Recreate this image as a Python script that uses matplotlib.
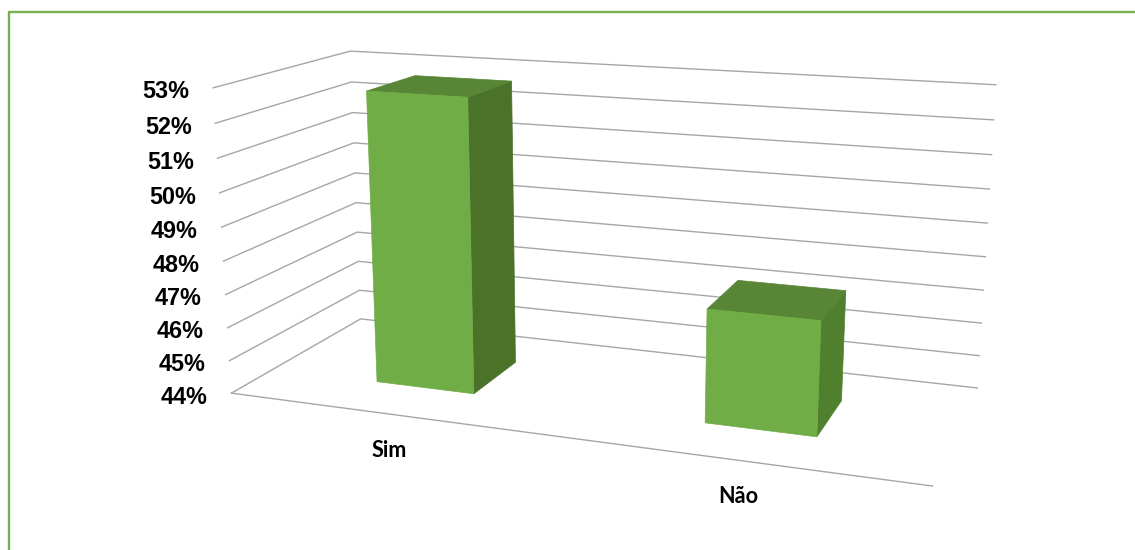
import numpy as np
import matplotlib
matplotlib.use("Agg")
import matplotlib.pyplot as plt
from matplotlib.patches import Polygon

# dados do grafico
categorias = ["Sim", "Não"]
valores = [52.74, 47.3]
ticks = [44, 45, 46, 47, 48, 49, 50, 51, 52, 53]
tick_labels = ["44%", "45%", "46%", "47%", "48%", "49%", "50%", "51%", "52%", "53%"]

# --------- perspectiva: (categoria, valor, profundidade) -> pixel ---------
cantos = [
    (0, 44, 0, 232, 393), (0, 44, 1, 360, 319), (2, 44, 1, 977.5, 388), (2, 44, 0, 932.5, 486),
    (0, 53, 0, 212.5, 88), (0, 53, 1, 351, 51), (2, 53, 1, 995.7, 84.7),
]
A = []
for x, y, z, u, v in cantos:
    A.append([x, y, z, 1, 0, 0, 0, 0, -u*x, -u*y, -u*z, -u])
    A.append([0, 0, 0, 0, x, y, z, 1, -v*x, -v*y, -v*z, -v])
P = np.linalg.svd(np.array(A))[2][-1].reshape(3, 4)


def project(x, y, z):
    h = P @ np.array([x, y, z, 1.0])
    return h[:2] / h[2]


plt.rcParams["font.family"] = ["Liberation Sans", "DejaVu Sans"]
fig = plt.figure(figsize=(11.35, 5.5), dpi=100)
ax = fig.add_axes([0, 0, 1, 1])
ax.set_xlim(0, 1135)
ax.set_ylim(550, 0)
ax.axis("off")

# moldura verde (so topo e esquerda aparecem)
ax.plot([8.5, 8.5, 1135], [550, 12, 12], color="#78AF55", lw=1.7, solid_joinstyle="miter", zorder=1)

# --------- grades ---------
grid = "#A6A6A6"
for t, lab in zip(ticks, tick_labels):
    xy = np.array([project(0, t, 0), project(0, t, 1), project(2, t, 1)])
    ax.plot(xy[:, 0], xy[:, 1], color=grid, lw=1.0, zorder=2)
    ax.annotate(lab, xy[0], xytext=(-17, -3), textcoords="offset points", ha="right", va="center",
                fontsize=16.8, fontweight="bold", color="black")

chao = np.array([project(0, 44, 0), project(2, 44, 0)])
ax.plot(chao[:, 0], chao[:, 1], color=grid, lw=1.0, zorder=2)

# --------- barras ---------
largura = 0.31
z0, z1 = 0.30, 0.69
cor_lado = ["#4B7229", "#50802E"]
for i, (cat, val) in enumerate(zip(categorias, valores)):
    x0, x1 = i + 0.5 - largura / 2, i + 0.5 + largura / 2
    frente = [project(x0, 44, z0), project(x1, 44, z0), project(x1, val, z0), project(x0, val, z0)]
    lado = [project(x1, 44, z0), project(x1, 44, z1), project(x1, val, z1), project(x1, val, z0)]
    topo = [project(x0, val, z0), project(x1, val, z0), project(x1, val, z1), project(x0, val, z1)]
    ax.add_patch(Polygon(lado, facecolor=cor_lado[i], edgecolor=cor_lado[i], lw=0.5, zorder=3))
    ax.add_patch(Polygon(topo, facecolor="#588636", edgecolor="#588636", lw=0.5, zorder=3))
    ax.add_patch(Polygon(frente, facecolor="#70AD47", edgecolor="#70AD47", lw=0.5, zorder=4))
    # rotulo da categoria abaixo da barra
    base = project(i + 0.5, 44, 0)
    ax.annotate(cat, base, xytext=(1.4, -26.2), textcoords="offset points", ha="center", va="center",
                fontsize=15.6, fontweight="bold", family=["Lato", "DejaVu Sans"], color="black")

fig.savefig("out.png", dpi=100)
